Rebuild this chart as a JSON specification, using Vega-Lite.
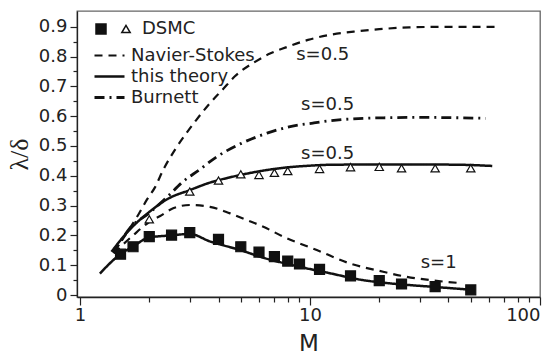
{
  "$schema": "https://vega.github.io/schema/vega-lite/v6.json",
  "width": 463,
  "height": 286,
  "autosize": {"type": "none"},
  "padding": {"left": 77, "top": 11, "right": 10, "bottom": 57},
  "background": "white",
  "config": {
    "view": {"stroke": "#666666", "strokeWidth": 1.3},
    "font": "DejaVu Sans",
    "axis": {"domainColor": "#222222", "tickColor": "#222222", "labelColor": "#222222", "titleColor": "#222222", "domainWidth": 1.3, "tickWidth": 1.2, "grid": false, "labelFont": "DejaVu Sans", "labelFontSize": 18, "titleFontWeight": "normal"},
    "legend": {"padding": 0, "labelFont": "DejaVu Sans", "labelFontSize": 18, "labelColor": "#222222"}
  },
  "datasets": {
    "lines": [
      {"M": 1.4, "v": 0.145, "model": "Navier-Stokes", "s": "0.5"},
      {"M": 1.6, "v": 0.209, "model": "Navier-Stokes", "s": "0.5"},
      {"M": 1.8, "v": 0.272, "model": "Navier-Stokes", "s": "0.5"},
      {"M": 1.95, "v": 0.319, "model": "Navier-Stokes", "s": "0.5"},
      {"M": 2.12, "v": 0.362, "model": "Navier-Stokes", "s": "0.5"},
      {"M": 2.3, "v": 0.42, "model": "Navier-Stokes", "s": "0.5"},
      {"M": 2.6, "v": 0.49, "model": "Navier-Stokes", "s": "0.5"},
      {"M": 2.85, "v": 0.535, "model": "Navier-Stokes", "s": "0.5"},
      {"M": 3.2, "v": 0.587, "model": "Navier-Stokes", "s": "0.5"},
      {"M": 3.6, "v": 0.636, "model": "Navier-Stokes", "s": "0.5"},
      {"M": 4.2, "v": 0.692, "model": "Navier-Stokes", "s": "0.5"},
      {"M": 4.7, "v": 0.733, "model": "Navier-Stokes", "s": "0.5"},
      {"M": 5.7, "v": 0.78, "model": "Navier-Stokes", "s": "0.5"},
      {"M": 6.7, "v": 0.81, "model": "Navier-Stokes", "s": "0.5"},
      {"M": 7.8, "v": 0.83, "model": "Navier-Stokes", "s": "0.5"},
      {"M": 9.8, "v": 0.856, "model": "Navier-Stokes", "s": "0.5"},
      {"M": 12, "v": 0.872, "model": "Navier-Stokes", "s": "0.5"},
      {"M": 16, "v": 0.885, "model": "Navier-Stokes", "s": "0.5"},
      {"M": 20, "v": 0.892, "model": "Navier-Stokes", "s": "0.5"},
      {"M": 27, "v": 0.898, "model": "Navier-Stokes", "s": "0.5"},
      {"M": 40, "v": 0.9, "model": "Navier-Stokes", "s": "0.5"},
      {"M": 64, "v": 0.9, "model": "Navier-Stokes", "s": "0.5"},
      {"M": 1.4, "v": 0.14, "model": "Burnett", "s": "0.5"},
      {"M": 1.65, "v": 0.225, "model": "Burnett", "s": "0.5"},
      {"M": 2.0, "v": 0.275, "model": "Burnett", "s": "0.5"},
      {"M": 2.4, "v": 0.33, "model": "Burnett", "s": "0.5"},
      {"M": 2.8, "v": 0.38, "model": "Burnett", "s": "0.5"},
      {"M": 3.3, "v": 0.42, "model": "Burnett", "s": "0.5"},
      {"M": 3.9, "v": 0.462, "model": "Burnett", "s": "0.5"},
      {"M": 5.0, "v": 0.508, "model": "Burnett", "s": "0.5"},
      {"M": 6.5, "v": 0.543, "model": "Burnett", "s": "0.5"},
      {"M": 8.2, "v": 0.565, "model": "Burnett", "s": "0.5"},
      {"M": 10.3, "v": 0.577, "model": "Burnett", "s": "0.5"},
      {"M": 13, "v": 0.587, "model": "Burnett", "s": "0.5"},
      {"M": 16.2, "v": 0.592, "model": "Burnett", "s": "0.5"},
      {"M": 22, "v": 0.595, "model": "Burnett", "s": "0.5"},
      {"M": 30, "v": 0.596, "model": "Burnett", "s": "0.5"},
      {"M": 42, "v": 0.595, "model": "Burnett", "s": "0.5"},
      {"M": 58, "v": 0.593, "model": "Burnett", "s": "0.5"},
      {"M": 1.37, "v": 0.145, "model": "this theory", "s": "0.5"},
      {"M": 1.61, "v": 0.212, "model": "this theory", "s": "0.5"},
      {"M": 2.01, "v": 0.28, "model": "this theory", "s": "0.5"},
      {"M": 2.4, "v": 0.322, "model": "this theory", "s": "0.5"},
      {"M": 3.0, "v": 0.352, "model": "this theory", "s": "0.5"},
      {"M": 3.7, "v": 0.378, "model": "this theory", "s": "0.5"},
      {"M": 4.5, "v": 0.395, "model": "this theory", "s": "0.5"},
      {"M": 5.0, "v": 0.403, "model": "this theory", "s": "0.5"},
      {"M": 5.9, "v": 0.414, "model": "this theory", "s": "0.5"},
      {"M": 7.9, "v": 0.428, "model": "this theory", "s": "0.5"},
      {"M": 10, "v": 0.434, "model": "this theory", "s": "0.5"},
      {"M": 12.2, "v": 0.437, "model": "this theory", "s": "0.5"},
      {"M": 20, "v": 0.438, "model": "this theory", "s": "0.5"},
      {"M": 30, "v": 0.438, "model": "this theory", "s": "0.5"},
      {"M": 45, "v": 0.437, "model": "this theory", "s": "0.5"},
      {"M": 62, "v": 0.433, "model": "this theory", "s": "0.5"},
      {"M": 1.22, "v": 0.072, "model": "this theory", "s": "1"},
      {"M": 1.48, "v": 0.134, "model": "this theory", "s": "1"},
      {"M": 1.7, "v": 0.163, "model": "this theory", "s": "1"},
      {"M": 2.0, "v": 0.193, "model": "this theory", "s": "1"},
      {"M": 2.5, "v": 0.2, "model": "this theory", "s": "1"},
      {"M": 3.0, "v": 0.205, "model": "this theory", "s": "1"},
      {"M": 3.67, "v": 0.18, "model": "this theory", "s": "1"},
      {"M": 4.06, "v": 0.17, "model": "this theory", "s": "1"},
      {"M": 4.96, "v": 0.151, "model": "this theory", "s": "1"},
      {"M": 6.27, "v": 0.125, "model": "this theory", "s": "1"},
      {"M": 8.76, "v": 0.097, "model": "this theory", "s": "1"},
      {"M": 12.2, "v": 0.073, "model": "this theory", "s": "1"},
      {"M": 17, "v": 0.05, "model": "this theory", "s": "1"},
      {"M": 22.3, "v": 0.039, "model": "this theory", "s": "1"},
      {"M": 34.9, "v": 0.027, "model": "this theory", "s": "1"},
      {"M": 49.6, "v": 0.018, "model": "this theory", "s": "1"},
      {"M": 1.4, "v": 0.14, "model": "Navier-Stokes", "s": "1"},
      {"M": 1.7, "v": 0.2, "model": "Navier-Stokes", "s": "1"},
      {"M": 2.0, "v": 0.245, "model": "Navier-Stokes", "s": "1"},
      {"M": 2.23, "v": 0.265, "model": "Navier-Stokes", "s": "1"},
      {"M": 2.54, "v": 0.291, "model": "Navier-Stokes", "s": "1"},
      {"M": 3.0, "v": 0.302, "model": "Navier-Stokes", "s": "1"},
      {"M": 3.67, "v": 0.296, "model": "Navier-Stokes", "s": "1"},
      {"M": 4.49, "v": 0.274, "model": "Navier-Stokes", "s": "1"},
      {"M": 5.3, "v": 0.252, "model": "Navier-Stokes", "s": "1"},
      {"M": 6.27, "v": 0.229, "model": "Navier-Stokes", "s": "1"},
      {"M": 7.64, "v": 0.196, "model": "Navier-Stokes", "s": "1"},
      {"M": 10.7, "v": 0.151, "model": "Navier-Stokes", "s": "1"},
      {"M": 14.9, "v": 0.106, "model": "Navier-Stokes", "s": "1"},
      {"M": 20.8, "v": 0.078, "model": "Navier-Stokes", "s": "1"},
      {"M": 26.3, "v": 0.061, "model": "Navier-Stokes", "s": "1"},
      {"M": 33.2, "v": 0.05, "model": "Navier-Stokes", "s": "1"},
      {"M": 45, "v": 0.04, "model": "Navier-Stokes", "s": "1"}
    ],
    "dsmc": [
      {"M": 1.5, "v": 0.137, "s": "s=1"},
      {"M": 1.7, "v": 0.162, "s": "s=1"},
      {"M": 2.0, "v": 0.196, "s": "s=1"},
      {"M": 2.5, "v": 0.201, "s": "s=1"},
      {"M": 3.0, "v": 0.209, "s": "s=1"},
      {"M": 4.0, "v": 0.187, "s": "s=1"},
      {"M": 5.0, "v": 0.162, "s": "s=1"},
      {"M": 6.0, "v": 0.144, "s": "s=1"},
      {"M": 7.0, "v": 0.129, "s": "s=1"},
      {"M": 8.0, "v": 0.114, "s": "s=1"},
      {"M": 9.0, "v": 0.104, "s": "s=1"},
      {"M": 11, "v": 0.086, "s": "s=1"},
      {"M": 15, "v": 0.064, "s": "s=1"},
      {"M": 20, "v": 0.048, "s": "s=1"},
      {"M": 25, "v": 0.037, "s": "s=1"},
      {"M": 35, "v": 0.028, "s": "s=1"},
      {"M": 50, "v": 0.017, "s": "s=1"},
      {"M": 2.0, "v": 0.254, "s": "s=0.5"},
      {"M": 3.0, "v": 0.347, "s": "s=0.5"},
      {"M": 4.0, "v": 0.384, "s": "s=0.5"},
      {"M": 5.0, "v": 0.405, "s": "s=0.5"},
      {"M": 6.0, "v": 0.403, "s": "s=0.5"},
      {"M": 7.0, "v": 0.41, "s": "s=0.5"},
      {"M": 8.0, "v": 0.416, "s": "s=0.5"},
      {"M": 11, "v": 0.423, "s": "s=0.5"},
      {"M": 15, "v": 0.429, "s": "s=0.5"},
      {"M": 20, "v": 0.43, "s": "s=0.5"},
      {"M": 25, "v": 0.425, "s": "s=0.5"},
      {"M": 35, "v": 0.425, "s": "s=0.5"},
      {"M": 50, "v": 0.425, "s": "s=0.5"}
    ],
    "labels": [
      {"M": 8.71, "v": 0.805, "t": "s=0.5"},
      {"M": 9.14, "v": 0.638, "t": "s=0.5"},
      {"M": 9.14, "v": 0.473, "t": "s=0.5"},
      {"M": 30.3, "v": 0.106, "t": "s=1"}
    ]
  },
  "resolve": {"scale": {"x": "shared", "y": "shared"}, "axis": {"x": "independent", "y": "independent"}},
  "layer": [
    {
      "data": {"name": "lines"},
      "mark": {"type": "line", "color": "#111111", "interpolate": "monotone"},
      "encoding": {
        "x": {"field": "M", "type": "quantitative",
          "scale": {"type": "log", "domain": [0.97, 100], "nice": false, "zero": false},
          "axis": {"orient": "bottom", "values": [1, 10, 100], "format": "d", "tickSize": 8, "labelPadding": 1, "title": "M", "titleFontSize": 23, "titleFont": "DejaVu Sans", "titlePadding": 8}},
        "y": {"field": "v", "type": "quantitative",
          "scale": {"domain": [-0.0067, 0.953], "nice": false, "zero": false},
          "axis": {"orient": "left", "values": [0, 0.1, 0.2, 0.3, 0.4, 0.5, 0.6, 0.7, 0.8, 0.9], "format": "~g", "tickSize": 7, "labelPadding": 3, "title": "λ/δ", "titleFont": "Liberation Serif", "titleFontSize": 26, "titlePadding": 6}},
        "strokeDash": {"field": "model", "type": "nominal",
          "scale": {"domain": ["Navier-Stokes", "this theory", "Burnett"], "range": [[8, 6], [1, 0], [10, 5, 2, 5]]},
          "legend": {"title": null, "orient": "none", "legendX": 21, "legendY": 33, "symbolType": "M-1.5,0L1.5,0", "symbolSize": 400, "symbolStrokeColor": "#111111", "labelOffset": 10, "rowPadding": 0}},
        "strokeWidth": {"field": "model", "type": "nominal",
          "scale": {"domain": ["Navier-Stokes", "this theory", "Burnett"], "range": [2.2, 2.8, 1.5]},
          "legend": {"title": null, "orient": "none", "legendX": 21, "legendY": 33, "symbolType": "M-1.5,0L1.5,0", "symbolSize": 400, "symbolStrokeColor": "#111111", "labelOffset": 10, "rowPadding": 0}},
        "detail": {"field": "s"}
      }
    },
    {
      "data": {"name": "dsmc"},
      "mark": {"type": "point", "filled": true, "stroke": "#111111", "strokeWidth": 1.2, "opacity": 1},
      "encoding": {
        "x": {"field": "M", "type": "quantitative",
          "scale": {"type": "log", "domain": [0.97, 100], "nice": false, "zero": false},
          "axis": {"orient": "bottom", "values": [2, 3, 4, 5, 6, 7, 8, 9, 20, 30, 40, 50, 60, 70, 80, 90], "labels": false, "tickSize": 5, "domain": false, "title": null}},
        "y": {"field": "v", "type": "quantitative",
          "scale": {"domain": [-0.0067, 0.953], "nice": false, "zero": false},
          "axis": {"orient": "left", "values": [0.05, 0.15, 0.25, 0.35, 0.45, 0.55, 0.65, 0.75, 0.85], "labels": false, "tickSize": 4, "domain": false, "title": null}},
        "shape": {"field": "s", "type": "nominal",
          "scale": {"domain": ["s=1", "s=0.5"], "range": ["square", "triangle-up"]},
          "legend": {"title": null, "orient": "none", "legendX": 15, "legendY": 9, "direction": "horizontal", "gridAlign": "none", "labelOffset": 7, "columnPadding": 0, "labelExpr": "datum.label == 's=1' ? '' : 'DSMC'",
            "encode": {"symbols": {"update": {"stroke": {"value": "#111111"}, "strokeWidth": {"value": 1.2}, "opacity": {"value": 1}}}}}},
        "fill": {"field": "s", "type": "nominal",
          "scale": {"domain": ["s=1", "s=0.5"], "range": ["#111111", "white"]},
          "legend": {"title": null, "orient": "none", "legendX": 15, "legendY": 9, "direction": "horizontal", "gridAlign": "none", "labelOffset": 7, "columnPadding": 0, "labelExpr": "datum.label == 's=1' ? '' : 'DSMC'",
            "encode": {"symbols": {"update": {"stroke": {"value": "#111111"}, "strokeWidth": {"value": 1.2}, "opacity": {"value": 1}}}}}},
        "size": {"field": "s", "type": "nominal",
          "scale": {"domain": ["s=1", "s=0.5"], "range": [100, 70]},
          "legend": {"title": null, "orient": "none", "legendX": 15, "legendY": 9, "direction": "horizontal", "gridAlign": "none", "labelOffset": 7, "columnPadding": 0, "labelExpr": "datum.label == 's=1' ? '' : 'DSMC'",
            "encode": {"symbols": {"update": {"stroke": {"value": "#111111"}, "strokeWidth": {"value": 1.2}, "opacity": {"value": 1}}}}}}
      }
    },
    {
      "data": {"name": "labels"},
      "mark": {"type": "text", "align": "left", "baseline": "middle", "font": "DejaVu Sans", "fontSize": 18, "color": "#222222"},
      "encoding": {
        "x": {"field": "M", "type": "quantitative", "scale": {"type": "log", "domain": [0.97, 100], "nice": false, "zero": false}, "axis": null},
        "y": {"field": "v", "type": "quantitative", "scale": {"domain": [-0.0067, 0.953], "nice": false, "zero": false}, "axis": null},
        "text": {"field": "t"}
      }
    }
  ]
}
